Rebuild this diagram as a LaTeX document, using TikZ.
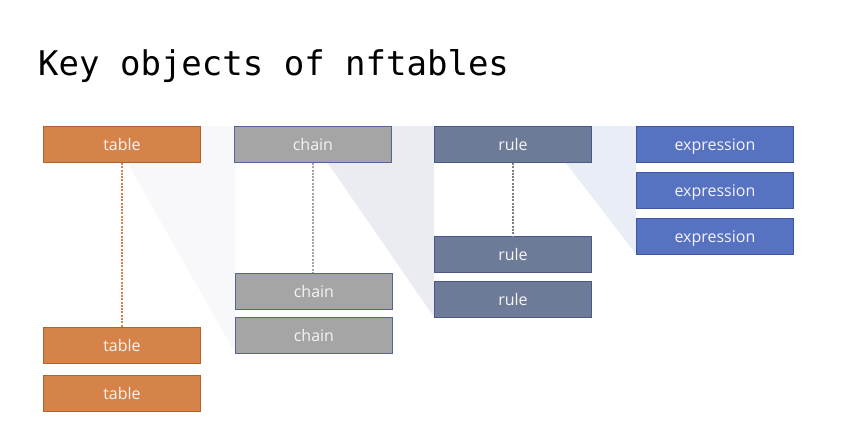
\documentclass[tikz,border=0pt]{standalone}
\usepackage{fontspec}
\setmainfont{Open Sans}
\newfontfamily\titlefont{DejaVu Sans Mono}
\definecolor{tblfill}{HTML}{D6834A}
\definecolor{tbldraw}{HTML}{B0612E}
\definecolor{chfill}{HTML}{A5A5A5}
\definecolor{chdraw}{HTML}{55659A}
\definecolor{rufill}{HTML}{6E7B98}
\definecolor{rudraw}{HTML}{4A5A88}
\definecolor{exfill}{HTML}{5672C0}
\definecolor{exdraw}{HTML}{40569E}
\definecolor{shadeA}{HTML}{F8F8FA}
\definecolor{shadeB}{HTML}{EBECF1}
\definecolor{shadeC}{HTML}{E9EDF6}
\definecolor{boxtext}{HTML}{F4F4F4}
\definecolor{rulelink}{HTML}{7F7F7F}
\begin{document}
\begin{tikzpicture}[x=1pt,y=-1pt,
  objbox/.style={minimum width=157pt,minimum height=36pt,inner sep=0pt,line width=0.9pt,
    text height=13pt,text depth=0pt,
    text=boxtext,font=\fontsize{16}{19}\selectfont,anchor=north west},
  tblbox/.style={objbox,fill=tblfill,draw=tbldraw},
  chbox/.style={objbox,fill=chfill,draw=chdraw},
  rubox/.style={objbox,fill=rufill,draw=rudraw},
  exbox/.style={objbox,fill=exfill,draw=exdraw},
  link/.style={line width=2pt,dash pattern=on 2pt off 1.3pt}]
\useasboundingbox (0,0) rectangle (843,444);
% zoom shades
\fill[shadeA] (127,162) -- (201,162) -- (201,126) -- (235,126) -- (235,353) -- cycle;
\fill[shadeB] (327,162) -- (391,162) -- (391,126) -- (434,126) -- (434,317) -- cycle;
\fill[shadeC] (565,162) -- (592,162) -- (592,126) -- (636,126) -- (636,254) -- cycle;
% title
\node[anchor=base west,inner sep=0pt,font=\titlefont\fontsize{34}{40}\selectfont] (title) at (38,76) {Key objects of nftables};
% boxes
\node[tblbox] (t1) at (43,126) {table};
\node[tblbox] (t2) at (43,327) {table};
\node[tblbox] (t3) at (43,375) {table};
\node[chbox] (c1) at (234,126) {chain};
\node[chbox] (c2) at (235,273) {chain};
\node[chbox] (c3) at (235,317) {chain};
\node[rubox] (r1) at (434,126) {rule};
\node[rubox] (r2) at (434,236) {rule};
\node[rubox] (r3) at (434,281) {rule};
\node[exbox] (e1) at (636,126) {expression};
\node[exbox] (e2) at (636,172) {expression};
\node[exbox] (e3) at (636,218) {expression};
% dotted links
\draw[link,draw=tblfill] (t1.south) -- (t2.north);
\draw[link,draw=chfill] (c1.south) -- (c2.north -| c1.south);
\draw[link,draw=rulelink] (r1.south) -- (r2.north);
\end{tikzpicture}
\end{document}
